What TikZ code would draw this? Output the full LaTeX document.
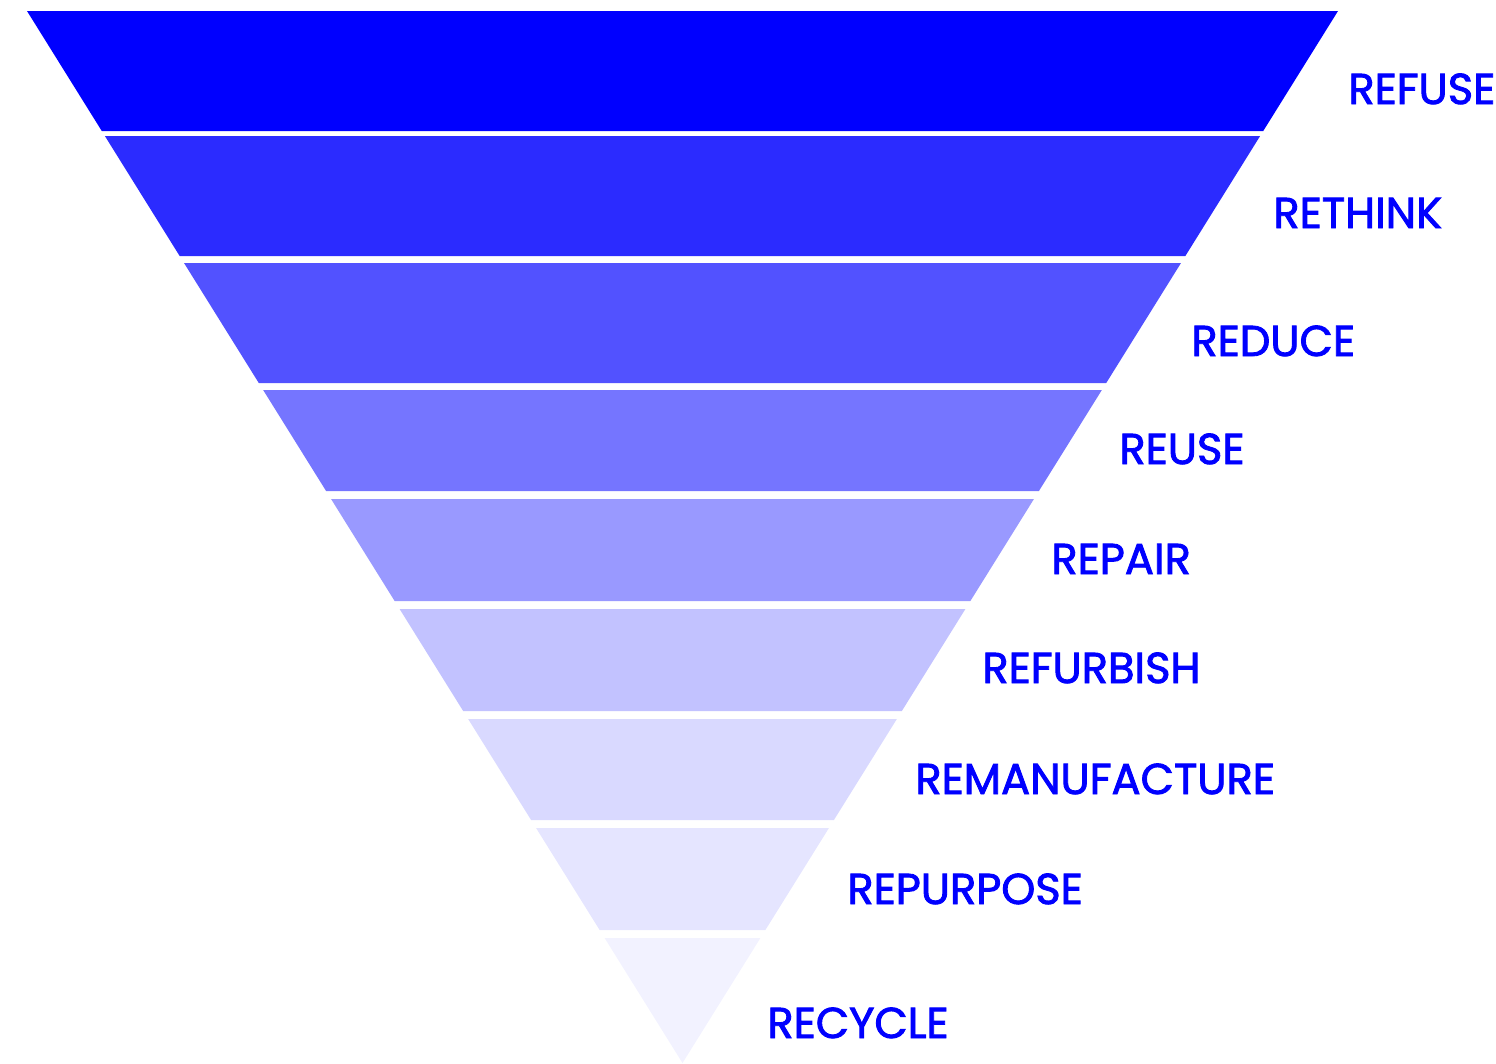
\documentclass[tikz,border=0pt]{standalone}
\usepackage{fontspec}
\newfontfamily\lblfont{Poppins}[UprightFeatures={FakeBold=2}]
\usepackage{tikz}

\begin{document}
\begin{tikzpicture}[x=0.02cm, y=-0.02cm,
  lbl/.style={anchor=base west, inner sep=0pt, text=blue, font=\lblfont\fontsize{24.6}{25}\selectfont}]
  \useasboundingbox (0,0) rectangle (1496,1063);
  \foreach \ya/\yb/\tint in {11/131/100, 136/256/83, 263/383/68, 390/491/54, 499/601/40,
      609/711/24, 719/820/15, 828/930/10, 938/1063/5}
  {
    \pgfmathsetmacro\wa{0.62310*(1063-\ya)}
    \pgfmathsetmacro\wb{0.62310*(1063-\yb)}
    \fill[blue!\tint] (682.5-\wa,\ya) -- (682.5+\wa,\ya) -- (682.5+\wb,\yb) -- (682.5-\wb,\yb) -- cycle;
  }
  \node[lbl] (refuse) at (1348,104) {REFUSE};
  \node[lbl] (rethink) at (1273,228) {RETHINK};
  \node[lbl] (reduce) at (1191,356) {REDUCE};
  \node[lbl] (reuse) at (1119,464) {REUSE};
  \node[lbl] (repair) at (1051,574) {REPAIR};
  \node[lbl] (refurbish) at (982,683) {REFURBISH};
  \node[lbl] (remanufacture) at (915,794) {REMANUFACTURE};
  \node[lbl] (repurpose) at (847,904) {REPURPOSE};
  \node[lbl] (recycle) at (767,1038) {RECYCLE};
\end{tikzpicture}
\end{document}
